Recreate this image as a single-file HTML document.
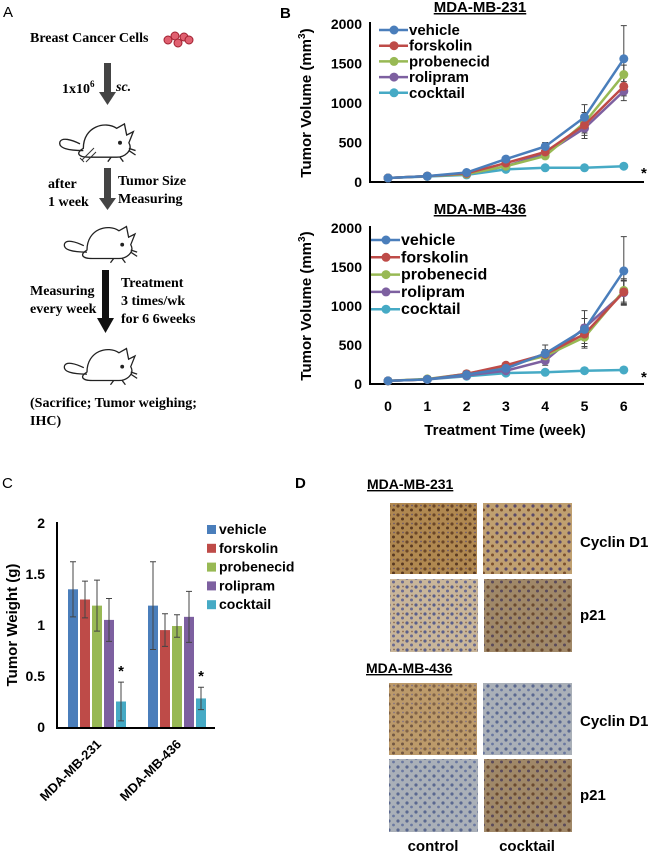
<!DOCTYPE html>
<html><head><meta charset="utf-8"><style>
body{margin:0;background:#fff;}
svg{display:block;font-family:"Liberation Sans",sans-serif;}
.serif{font-family:"Liberation Serif",serif;font-weight:bold;font-size:14px;}
.b{font-weight:bold;}
</style></head><body>
<svg id="fig" width="650" height="853" viewBox="0 0 650 853">
<defs>
<pattern id="brown" width="9" height="9" patternUnits="userSpaceOnUse"><rect width="9" height="9" fill="#b08850"/><circle cx="2" cy="2" r="1.6" fill="#6a4628"/><circle cx="6.5" cy="6" r="1.5" fill="#5a3a22"/><circle cx="7" cy="1.5" r="0.9" fill="#6d5a6a"/></pattern>
<pattern id="blue" width="9" height="9" patternUnits="userSpaceOnUse"><rect width="9" height="9" fill="#c9b69a"/><circle cx="2" cy="2" r="1.6" fill="#5a5f8a"/><circle cx="6.5" cy="6" r="1.5" fill="#6a6a90"/><circle cx="7" cy="1.5" r="0.9" fill="#8a6a50"/></pattern>
<pattern id="mixb" width="9" height="9" patternUnits="userSpaceOnUse"><rect width="9" height="9" fill="#c0a070"/><circle cx="2" cy="2" r="1.6" fill="#5a4a6a"/><circle cx="6.5" cy="6" r="1.5" fill="#7a5030"/></pattern>
<pattern id="greyblue" width="9" height="9" patternUnits="userSpaceOnUse"><rect width="9" height="9" fill="#aab0b8"/><circle cx="2" cy="2" r="1.6" fill="#5a6890"/><circle cx="6.5" cy="6" r="1.4" fill="#6a78a0"/></pattern>
<pattern id="brown2" width="9" height="9" patternUnits="userSpaceOnUse"><rect width="9" height="9" fill="#a08868"/><circle cx="2" cy="2" r="1.6" fill="#6a4a30"/><circle cx="6.5" cy="6" r="1.5" fill="#5a4a5a"/></pattern>
<symbol id="mouse" viewBox="0 0 80 45"><g fill="none" stroke="#222" stroke-width="1.2"><path d="M25 30 C25 10 45 5 55 12 L62 8 L64 18 L70 15 L66 25 C70 32 62 38 55 38 L30 38 C20 38 18 34 25 30Z"/><path d="M25 32 C12 32 2 30 4 24 C6 20 14 22 22 26"/><circle cx="58" cy="25" r="1.2" fill="#222"/><path d="M50 38 l-3 4 M58 38 l3 4 M66 30 l6 2 M66 32 l6 4"/></g></symbol>
</defs>

<text x="3" y="17" font-size="15">A</text>
<text x="280" y="18" font-size="15" class="b">B</text>
<text x="2" y="488" font-size="15">C</text>
<text x="295" y="488" font-size="15" class="b">D</text>

<g>
<text x="30" y="42" class="serif">Breast Cancer Cells</text>
<g fill="#e06070" stroke="#a02030" stroke-width="1"><circle cx="168" cy="40" r="4"/><circle cx="175" cy="36" r="4"/><circle cx="178" cy="43" r="4"/><circle cx="184" cy="37" r="4"/><circle cx="189" cy="40" r="4"/></g>
<g><rect x="104" y="63" width="7" height="30" fill="#444"/><polygon points="99,92 116,92 107.5,105" fill="#444"/></g>
<text x="62" y="93" class="serif">1x10<tspan font-size="9" dy="-6">6</tspan></text>
<text x="116" y="91" class="serif" font-style="italic" font-weight="normal">sc.</text>
<use href="#mouse" x="55" y="115" width="90" height="50"/>
<g stroke="#333" fill="none"><path d="M82 160 l12 -12 M86 162 l10 -10 M80 158 l4 4"/></g>
<g><rect x="104" y="168" width="7" height="32" fill="#444"/><polygon points="99,198 116,198 107.5,210" fill="#444"/></g>
<text x="48" y="188" class="serif">after</text>
<text x="48" y="206" class="serif">1 week</text>
<text x="118" y="185" class="serif">Tumor Size</text>
<text x="118" y="203" class="serif">Measuring</text>
<use href="#mouse" x="58" y="218" width="90" height="48"/>
<g><rect x="102" y="270" width="7" height="50" fill="#111"/><polygon points="97,318 114,318 105.5,333" fill="#111"/></g>
<text x="30" y="295" class="serif">Measuring</text>
<text x="30" y="313" class="serif">every week</text>
<text x="121" y="287" class="serif">Treatment</text>
<text x="121" y="305" class="serif">3 times/wk</text>
<text x="121" y="323" class="serif">for 6 6weeks</text>
<use href="#mouse" x="58" y="340" width="90" height="48"/>
<text x="30" y="407" class="serif">(Sacrifice; Tumor weighing;</text>
<text x="30" y="425" class="serif">IHC)</text>
</g>

<g id="panelB"></g>
<g id="panelC"></g>

<g font-weight="bold">
<text x="367" y="489" font-size="14" text-decoration="underline">MDA-MB-231</text>
<rect x="390" y="503" width="87" height="71" fill="url(#brown)"/>
<rect x="483" y="503" width="89" height="71" fill="url(#mixb)"/>
<rect x="390" y="579" width="88" height="73" fill="url(#blue)"/>
<rect x="484" y="579" width="88" height="73" fill="url(#brown2)"/>
<text x="366" y="673" font-size="14" text-decoration="underline">MDA-MB-436</text>
<rect x="389" y="683" width="88" height="72" fill="url(#brown)" opacity="0.85"/>
<rect x="483" y="683" width="89" height="72" fill="url(#greyblue)"/>
<rect x="389" y="759" width="89" height="73" fill="url(#greyblue)"/>
<rect x="484" y="759" width="88" height="73" fill="url(#brown2)"/>
<text x="580" y="547" font-size="15">Cyclin D1</text>
<text x="580" y="620" font-size="15">p21</text>
<text x="580" y="726" font-size="15">Cyclin D1</text>
<text x="580" y="800" font-size="15">p21</text>
<text x="433" y="851" font-size="15" text-anchor="middle">control</text>
<text x="527" y="851" font-size="15" text-anchor="middle">cocktail</text>
</g>
</svg>
<script>
const NS="http://www.w3.org/2000/svg";
const seriesNames=["vehicle","forskolin","probenecid","rolipram","cocktail"];
const weeks=[0,1,2,3,4,5,6];
const volTicks=[0,500,1000,1500,2000];
const v231_vehicle=[50,75,120,290,450,820,1560];
const v231_forskolin=[50,75,110,240,380,720,1210];
const v231_probenecid=[50,75,100,200,330,750,1360];
const v231_rolipram=[50,75,100,200,360,680,1150];
const v231_cocktail=[50,70,90,160,180,180,200];
const e231_vehicle=[0,0,15,30,50,160,420];
const e231_other=[0,0,10,20,30,130,120];
const e231_cocktail=[0,0,0,0,0,0,15];
const v436_vehicle=[40,60,120,200,390,700,1450];
const v436_forskolin=[40,60,130,240,380,640,1180];
const v436_probenecid=[40,65,130,230,360,600,1200];
const v436_rolipram=[40,60,110,170,300,720,1170];
const v436_cocktail=[40,60,100,140,150,170,180];
const e436_vehicle=[0,0,15,30,110,240,440];
const e436_other=[0,0,10,20,60,120,150];
const e436_cocktail=[0,0,0,0,10,20,25];
const tumorGroups=["MDA-MB-231","MDA-MB-436"];
const w_vehicle=[1.35,1.19];
const w_forskolin=[1.25,0.95];
const w_probenecid=[1.19,0.99];
const w_rolipram=[1.05,1.08];
const w_cocktail=[0.25,0.28];
const we_vehicle=[0.27,0.43];
const we_forskolin=[0.18,0.16];
const we_probenecid=[0.25,0.11];
const we_rolipram=[0.21,0.25];
const we_cocktail=[0.19,0.11];
const weightTicks=["0","0.5","1","1.5","2"];
const colors=["#4a7ebb","#be4b48","#98b954","#7d60a0","#46aac5"];

function mk(tag,attrs,parent,text){const e=document.createElementNS(NS,tag);for(const k in attrs)e.setAttribute(k,attrs[k]);if(text!==undefined)e.textContent=text;parent.appendChild(e);return e;}

const B=document.getElementById("panelB");
function lineChart(y0,y2000,title,titleY,series,errSets,legX,legY,legStep,idx){
  const x=w=>388+w*39.3;
  const y=v=>y0-(v/2000)*(y0-y2000);
  const g=mk("g",{},B);
  
  
  const t=mk("text",{x:480,y:titleY,"font-size":15,"font-weight":"bold","text-anchor":"middle","text-decoration":"underline"},g,title);
  
  
  const ax=mk("path",{d:`M370 ${y2000-2} V${y0} H644`,stroke:"#000","stroke-width":2,fill:"none"},g);
  
  
  volTicks.forEach(v=>{const tl=mk("text",{x:362,y:y(v)+5,"font-size":14,"font-weight":"bold","text-anchor":"end"},g,v);
    
    });
  const yt=mk("text",{transform:`translate(311 ${(y0+y2000)/2}) rotate(-90)`,"font-size":15,"font-weight":"bold","text-anchor":"middle"},g);
  
  
  yt.innerHTML='Tumor Volume (mm<tspan font-size="10" dy="-6">3</tspan><tspan dy="6">)</tspan>';
  series.forEach((s,si)=>{
    const errs=si==0?errSets[0]:(si==4?errSets[2]:errSets[1]);
    weeks.forEach((w,i)=>{const e=errs[i];if(e<5)return;
      const eb=mk("path",{d:`M${x(w)} ${y(s[i]-e)} V${y(s[i]+e)} M${x(w)-3} ${y(s[i]+e)} h6 M${x(w)-3} ${y(s[i]-e)} h6`,stroke:"#444","stroke-width":1},g);
      
      });
  });
  [4,3,2,1,0].forEach(si=>{const s=series[si];
    const pl=mk("polyline",{points:weeks.map((w,i)=>x(w)+","+y(s[i])).join(" "),fill:"none",stroke:colors[si],"stroke-width":2.5},g);
    
    
    weeks.forEach((w,i)=>{const c=mk("circle",{cx:x(w),cy:y(s[i]),r:4.5,fill:colors[si]},g);
      
      });
  });
  const st=mk("text",{x:641,y:y(series[4][6])+12,"font-size":15,"font-weight":"bold"},g,"*");
  
  
  seriesNames.forEach((n,i)=>{const ly=legY+i*legStep;
    const lg=mk("g",{},g);
    
    
    mk("line",{x1:legX,x2:legX+29,y1:ly,y2:ly,stroke:colors[i],"stroke-width":2.5},lg);
    mk("circle",{cx:legX+15,cy:ly,r:4.5,fill:colors[i]},lg);
    mk("text",{x:legX+30,y:ly+5,"font-size":idx==1?15:16,"font-weight":"bold"},lg,n);
  });
}
lineChart(182,24,"MDA-MB-231",12,[v231_vehicle,v231_forskolin,v231_probenecid,v231_rolipram,v231_cocktail],[e231_vehicle,e231_other,e231_cocktail],379,30,15.7,1);
lineChart(384,228,"MDA-MB-436",214,[v436_vehicle,v436_forskolin,v436_probenecid,v436_rolipram,v436_cocktail],[e436_vehicle,e436_other,e436_cocktail],371,240,17.3,2);
weeks.forEach(w=>{const t=mk("text",{x:388+w*39.3,y:411,"font-size":14,"font-weight":"bold","text-anchor":"middle"},B,w);
  
  });
const xt=mk("text",{x:505,y:435,"font-size":15,"font-weight":"bold","text-anchor":"middle"},B,"Treatment Time (week)");



const C=document.getElementById("panelC");
const cy=v=>727-v/2*204;
const vals=[w_vehicle,w_forskolin,w_probenecid,w_rolipram,w_cocktail];
const errs=[we_vehicle,we_forskolin,we_probenecid,we_rolipram,we_cocktail];
const cax=mk("path",{d:"M57 522 V728 H215",stroke:"#000","stroke-width":2,fill:"none"},C);


weightTicks.forEach(t=>{const e=mk("text",{x:45,y:cy(parseFloat(t))+5,"font-size":14,"font-weight":"bold","text-anchor":"end"},C,t);
  
  });
const cyt=mk("text",{transform:"translate(17 625) rotate(-90)","font-size":15,"font-weight":"bold","text-anchor":"middle"},C,"Tumor Weight (g)");


tumorGroups.forEach((gname,gi)=>{
  const gx=68+gi*80;
  vals.forEach((s,si)=>{const bx=gx+si*12;
    const r=mk("rect",{x:bx,y:cy(s[gi]),width:10,height:cy(0)-cy(s[gi]),fill:colors[si]},C);
    
    
    const e=errs[si][gi],m=bx+5;
    const eb=mk("path",{d:`M${m} ${cy(s[gi]-e)} V${cy(s[gi]+e)} M${m-3} ${cy(s[gi]+e)} h6 M${m-3} ${cy(s[gi]-e)} h6`,stroke:"#444","stroke-width":1},C);
    
    
  });
  const st=mk("text",{x:gx+53,y:cy(w_cocktail[gi]+errs[4][gi])-6,"font-size":15,"font-weight":"bold","text-anchor":"middle"},C,"*");
  
  
  const lab=mk("text",{transform:`translate(${gx+34} 745) rotate(-45)`,"font-size":13,"font-weight":"bold","text-anchor":"end"},C,gname);
  
  
});
seriesNames.forEach((n,i)=>{const ly=530+i*18.8;
  const lg=mk("g",{},C);
  
  
  mk("rect",{x:207,y:ly-5,width:9,height:9,fill:colors[i]},lg);
  mk("text",{x:219,y:ly+4,"font-size":14,"font-weight":"bold"},lg,n);
});
</script>
</body></html>
